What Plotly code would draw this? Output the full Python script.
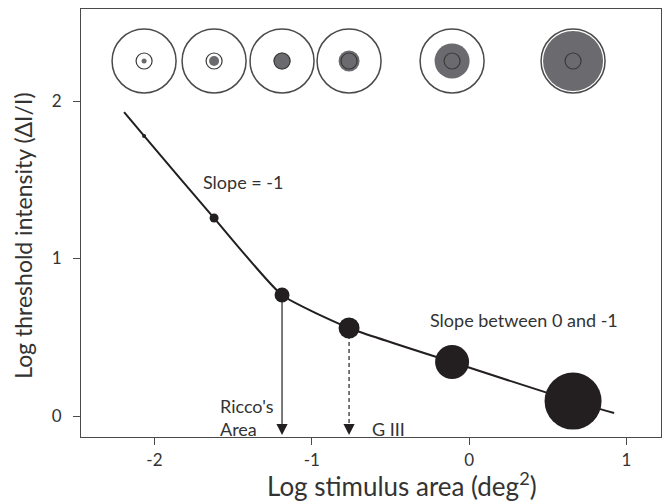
import plotly.graph_objects as go

# ---- data ----
point_x = [-2.066, -1.621, -1.189, -0.763, -0.108, 0.661]
point_y = [1.778, 1.257, 0.768, 0.559, 0.343, 0.095]

curve_x = [-2.193, -2.066, -1.621, -1.189, -0.763, -0.108, 0.661, 0.922]
curve_y = [1.930, 1.778, 1.257, 0.768, 0.559, 0.343, 0.095, 0.019]

x_ticks = [-2, -1, 0, 1]
y_ticks = [0, 1, 2]

ricco_x = -1.189
ricco_y = 0.768
g3_x = -0.763
g3_y = 0.559

x_title = "Log stimulus area (deg<sup>2</sup>)"
y_title = "Log threshold intensity (ΔI/I)"

# ---- styles ----
dot_sizes = [4, 9, 15, 21, 34, 57]
disk_sizes = [5, 10, 17, 21, 35, 60]
DARK = "#231f20"
GREY = "#6b6a6e"
OUT = "#4a4a4a"
TXT = "#333333"
FONT = "Lato"

X_RANGE = [-2.467, 1.22]
Y_RANGE = [-0.133, 2.584]
ICON_Y = 2.254

fig = go.Figure()

# curve
fig.add_trace(go.Scatter(x=curve_x, y=curve_y, mode="lines",
                         line=dict(color=DARK, width=2, shape="spline", smoothing=0.5),
                         hoverinfo="skip", showlegend=False))

# vertical arrows' shafts
fig.add_shape(type="line", x0=ricco_x, y0=ricco_y, x1=ricco_x, y1=Y_RANGE[0] + 0.03,
              line=dict(color=DARK, width=1.2))
fig.add_shape(type="line", x0=g3_x, y0=g3_y, x1=g3_x, y1=Y_RANGE[0] + 0.03,
              line=dict(color=DARK, width=1.2, dash="4px,3px"))

# data dots
fig.add_trace(go.Scatter(x=point_x, y=point_y, mode="markers",
                         marker=dict(size=dot_sizes, color=DARK, opacity=1, line=dict(width=0)),
                         hoverinfo="skip", showlegend=False))

# top icons: outer circle, grey disk, inner ring
icon_y = [ICON_Y] * len(point_x)
fig.add_trace(go.Scatter(x=point_x, y=icon_y, mode="markers",
                         marker=dict(size=64, color="white", opacity=1,
                                     line=dict(color=OUT, width=1.5)),
                         hoverinfo="skip", showlegend=False))
fig.add_trace(go.Scatter(x=point_x, y=icon_y, mode="markers",
                         marker=dict(size=disk_sizes, color=GREY, opacity=1, line=dict(width=0)),
                         hoverinfo="skip", showlegend=False))
fig.add_trace(go.Scatter(x=point_x, y=icon_y, mode="markers",
                         marker=dict(size=16, symbol="circle-open", color="#3a3a3a", opacity=1,
                                     line=dict(color="#3a3a3a", width=1.2)),
                         hoverinfo="skip", showlegend=False))

# arrowheads
for xx in (ricco_x, g3_x):
    fig.add_annotation(x=xx, y=Y_RANGE[0] + 0.012, ax=0, ay=-14, text=" ",
                       font=dict(size=2),
                       showarrow=True, arrowhead=2, arrowsize=1.6, arrowwidth=1.4,
                       arrowcolor=DARK, xref="x", yref="y")

# text annotations
fig.add_annotation(x=-1.437, y=1.486, text="Slope = -1", showarrow=False,
                   font=dict(family=FONT, size=18, color=TXT))
fig.add_annotation(x=0.35, y=0.61, text="Slope between 0 and -1", showarrow=False,
                   font=dict(family=FONT, size=18, color=TXT))
fig.add_annotation(x=-1.596, y=-0.01, text="Ricco's<br>Area", showarrow=False,
                   xanchor="left", align="left",
                   font=dict(family=FONT, size=18, color=TXT))
fig.add_annotation(x=-0.629, y=-0.083, text="G III", showarrow=False,
                   xanchor="left",
                   font=dict(family=FONT, size=18, color=TXT))

# axis titles
fig.add_annotation(x=0.553, y=-0.112, xref="paper", yref="paper", text=x_title,
                   showarrow=False, xanchor="center", yanchor="middle",
                   font=dict(family=FONT, size=26, color=TXT))
fig.add_annotation(x=-0.1, y=0.47, xref="paper", yref="paper", text=y_title,
                   showarrow=False, textangle=-90, xanchor="center", yanchor="middle",
                   font=dict(family=FONT, size=23, color=TXT))

axis_common = dict(showgrid=False, zeroline=False, showline=True, mirror=True,
                   linecolor=OUT, linewidth=1.2, ticks="outside", ticklen=7,
                   tickcolor=OUT, tickwidth=1.2, automargin=False,
                   tickfont=dict(family=FONT, size=17, color=TXT))

fig.update_layout(
    width=664, height=504,
    margin=dict(l=81, r=3, t=9, b=67),
    paper_bgcolor="white", plot_bgcolor="white",
    xaxis=dict(range=X_RANGE, tickvals=x_ticks, ticktext=[str(v) for v in x_ticks],
               **axis_common),
    yaxis=dict(range=Y_RANGE, tickvals=y_ticks, ticktext=[str(v) for v in y_ticks],
               ticklabelstandoff=8,
               **axis_common),
)

fig.write_html("out.html", config={"displayModeBar": False},
               post_script="document.body.style.margin='0';")
